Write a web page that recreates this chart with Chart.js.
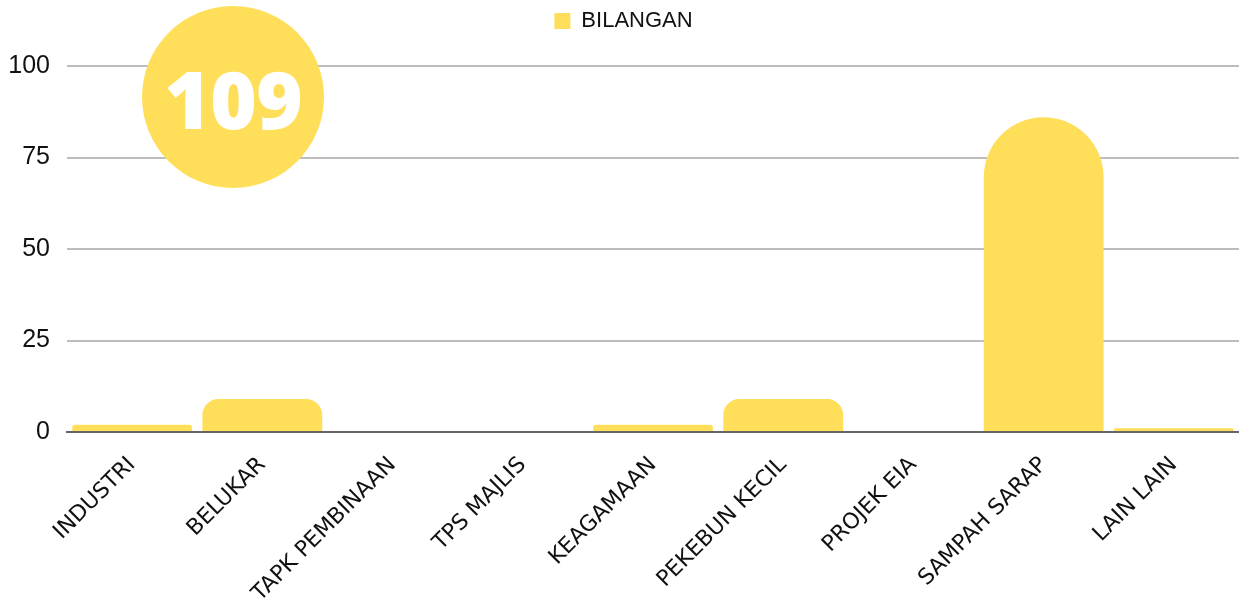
<!DOCTYPE html>
<html>
<head>
<meta charset="utf-8">
<script src="https://cdn.jsdelivr.net/npm/chart.js@4"></script>
<style>
    html, body { margin: 0; padding: 0; background: #fff; }
    #wrap { position: relative; width: 1239px; height: 599px; }
    #total {
        position: absolute; left: 142px; top: 6px; width: 182px; height: 182px;
        border-radius: 50%; background: #ffde59; color: #fff;
        font: 800 80px "Open Sans", sans-serif; letter-spacing: -1px;
        display: flex; align-items: center; justify-content: center;
    }
</style>
</head>
<body>
<div id="wrap">
    <canvas id="chart"></canvas>
    <div id="total"></div>
</div>
<script>
const yellow = "#ffde59"
const categories = ["INDUSTRI", "BELUKAR", "TAPK PEMBINAAN", "TPS MAJLIS", "KEAGAMAAN", "PEKEBUN KECIL", "PROJEK EIA", "SAMPAH SARAP", "LAIN LAIN"]
const bilangan = [2, 9, 0, 0, 2, 9, 0, 86, 1]
const yTicks = [0, 25, 50, 75, 100]

document.getElementById("total").textContent = bilangan.reduce((a, x) => a + x, 0)

const legendFont = { family: "'Liberation Sans', Arial, sans-serif", size: 22 }
const yFont = { family: "'Liberation Sans', Arial, sans-serif", size: 25 }
const labelFont = { family: "'DejaVu Sans', sans-serif", size: 22 }

// extra space between legend and plot
const legendGap = {
    id: "legendGap",
    beforeInit(chart) {
        const fit = chart.legend.fit
        chart.legend.fit = function () {
            fit.call(this)
            this.height += 24
        }
    }
}

new Chart("chart", {
    type: "bar",
    data: {
        labels: categories,
        datasets: [{
            label: "BILANGAN",
            data: bilangan,
            backgroundColor: yellow,
            borderRadius: 60,
            borderSkipped: "start",
            barPercentage: 0.92,
            categoryPercentage: 1
        }]
    },
    options: {
        responsive: true,
        maintainAspectRatio: false,
        animation: false,
        layout: { padding: { left: 8, right: 0, bottom: 0, top: 0 } },
        plugins: {
            legend: {
                position: "top",
                labels: {
                    boxWidth: 16, boxHeight: 16, padding: 10,
                    color: "#111", font: legendFont
                }
            },
            tooltip: { enabled: false }
        },
        scales: {
            x: {
                grid: { display: false, drawTicks: false },
                border: { color: "#666", width: 2 },
                ticks: {
                    color: "#111", font: labelFont,
                    autoSkip: false, maxRotation: 45, minRotation: 45, padding: 20
                },
                afterFit: s => {
                    s.paddingLeft = 0
                    s.height = 167
                }
            },
            y: {
                min: 0, max: 100,
                afterBuildTicks: axis => { axis.ticks = yTicks.map(v => ({ value: v })) },
                afterFit: s => { s.width = 59 },
                grid: { color: "#bdbdbd", lineWidth: 2, drawTicks: false },
                border: { display: false },
                ticks: { color: "#111", font: yFont, padding: 17 }
            }
        }
    },
    plugins: [legendGap]
})
</script>
</body>
</html>
